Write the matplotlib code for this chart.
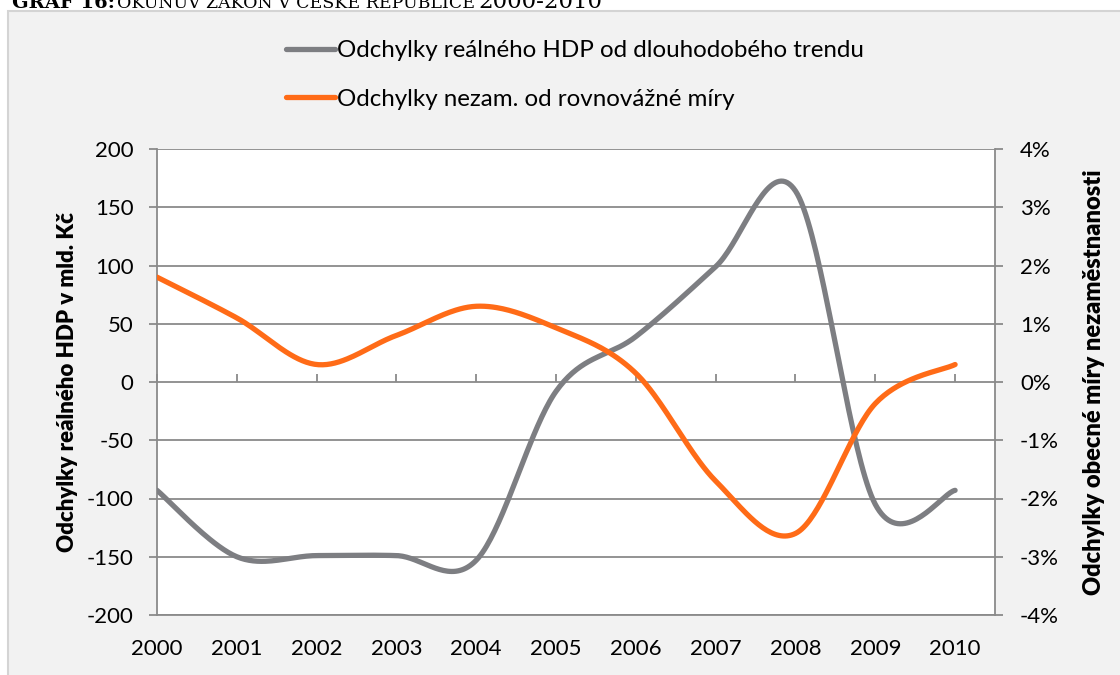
import numpy as np
import matplotlib.pyplot as plt
from matplotlib.patches import Rectangle
from matplotlib.ticker import FuncFormatter, MultipleLocator

plt.rcParams['font.family'] = ['Lato', 'DejaVu Sans']
plt.rcParams['axes.unicode_minus'] = False

years = [2000, 2001, 2002, 2003, 2004, 2005, 2006, 2007, 2008, 2009, 2010]
# odchylky realneho HDP od trendu (mld. Kc)
hdp_gap = [-93, -150, -149, -149, -153, -8, 39, 99, 164, -105, -93]
# odchylky nezamestnanosti od rovnovazne miry (%)
unemp_gap = [1.8, 1.1, 0.3, 0.8, 1.3, 0.93, 0.15, -1.7, -2.6, -0.37, 0.3]

hdp_label = 'Odchylky reálného HDP od dlouhodobého trendu'
unemp_label = 'Odchylky nezam. od rovnovážné míry'

GREY = '#7d7e82'
ORANGE = '#ff6b17'
GRID = '#8a8a8a'


def smooth(xs, ys, n=40):
    # Excel-like smoothed line: bezier segments with catmull-rom control points
    p = np.column_stack([xs, ys]).astype(float)
    p_ext = np.vstack([p[0], p, p[-1]])
    out = []
    t = np.linspace(0, 1, n)[:, None]
    for i in range(len(p) - 1):
        p0, p1, p2, p3 = p_ext[i], p_ext[i + 1], p_ext[i + 2], p_ext[i + 3]
        b1 = p1 + (p2 - p0) / 6
        b2 = p2 - (p3 - p1) / 6
        seg = ((1 - t) ** 3) * p1 + 3 * ((1 - t) ** 2) * t * b1 + 3 * (1 - t) * t ** 2 * b2 + t ** 3 * p2
        out.append(seg if i == 0 else seg[1:])
    out = np.vstack(out)
    return out[:, 0], out[:, 1]


fig = plt.figure(figsize=(11.2, 6.75), dpi=100)
W, H = 1120, 675

# outer chart frame (light grey)
frame = Rectangle((8 / W, -0.1), 1.2, (H - 11) / H + 0.1, transform=fig.transFigure,
                  facecolor='#f2f2f2', edgecolor='#d4d4d4', linewidth=1.5, zorder=-5)
fig.add_artist(frame)

# title, cut at top of the picture
ty = 1 - 8 / H
fig.text(12 / W, ty, 'GRAF 16:', fontsize=14, fontweight='bold', family='DejaVu Serif', va='baseline')
fig.text(117 / W, ty, 'OKUNŮV ZÁKON V ČESKÉ REPUBLICE', fontsize=12.5, family='DejaVu Serif', va='baseline')
fig.text(478 / W, ty, '2000-2010', fontsize=16.5, family='DejaVu Serif', va='baseline')

ax = fig.add_axes([157 / W, (H - 615) / H, (995 - 157) / W, (615 - 149) / H])
ax.set_facecolor('white')
ax.set_xlim(2000, 2010.5)
ax.set_ylim(-200, 200)
ax.yaxis.set_major_locator(MultipleLocator(50))
ax.set_xticks(years)
ax.set_xticklabels([str(y) for y in years])
ax.tick_params(axis='x', length=0, labelsize=16, pad=17)
ax.tick_params(axis='y', direction='out', length=6, width=1.3, color=GRID, labelsize=16, pad=11)
ax.grid(axis='y', color=GRID, linewidth=1.3)
ax.set_axisbelow(True)
for s in ['top', 'right']:
    ax.spines[s].set_visible(False)
for s in ['left', 'bottom']:
    ax.spines[s].set_color(GRID)
    ax.spines[s].set_linewidth(1.3)

# tick marks on the zero line
sec = ax.secondary_xaxis(0.5)
sec.set_xticks(years)
sec.tick_params(axis='x', direction='out', length=6, width=1.3, color=GRID, labelbottom=False, labeltop=False)
sec.spines['bottom'].set_visible(False)
sec.spines['top'].set_visible(False)

ax2 = ax.twinx()
ax2.set_ylim(-4, 4)
ax2.yaxis.set_major_locator(MultipleLocator(1))
ax2.yaxis.set_major_formatter(FuncFormatter(lambda v, _: f'{v:.0f}%'))
ax2.tick_params(axis='y', direction='out', length=6, width=1.3, color=GRID, labelsize=16, pad=12)
for s in ['top', 'left', 'bottom']:
    ax2.spines[s].set_visible(False)
ax2.spines['right'].set_color(GRID)
ax2.spines['right'].set_linewidth(1.3)

hx, hy = smooth(years, hdp_gap)
ux, uy = smooth(years, unemp_gap)
l1, = ax.plot(hx, hy, color=GREY, linewidth=3.8, solid_capstyle='round', label=hdp_label, zorder=3)
l2, = ax2.plot(ux, uy, color=ORANGE, linewidth=3.8, solid_capstyle='round', label=unemp_label, zorder=3)

ax.set_ylabel('Odchylky reálného HDP v mld. Kč', fontsize=16, fontweight='heavy', labelpad=6)
ax2.set_ylabel('Odchylky obecné míry nezaměstnanosti', fontsize=17, fontweight='heavy', labelpad=17)

fig.legend([l1, l2], [hdp_label, unemp_label], loc='center', bbox_to_anchor=(575 / W, 1 - 75 / H),
           frameon=False, fontsize=17.4, handlelength=2.0, handletextpad=0.1, labelspacing=1.15)

fig.savefig('out.png', dpi=100)
